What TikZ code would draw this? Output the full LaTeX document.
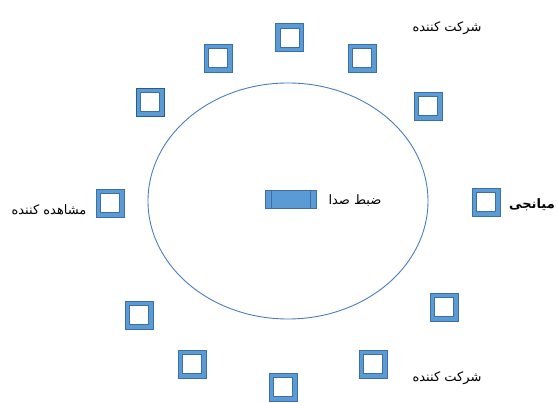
\documentclass[tikz,border=0pt]{standalone}
\usepackage{fontspec}
\TeXXeTstate=1
\newfontfamily\fa[Script=Arabic]{DejaVu Sans}
\definecolor{sqb}{HTML}{3C6FA8}
\definecolor{sqf}{HTML}{5B9BD5}
\definecolor{sqd}{HTML}{2B5A90}
\definecolor{ell}{HTML}{4A7EBB}
\begin{document}
\begin{tikzpicture}[x=1pt,y=-1pt,
  sq/.style={draw=sqb, line width=0.8pt, fill=sqf, minimum size=28pt, inner sep=0pt,
    path picture={\draw[draw=sqb, line width=0.5pt, fill=white]
      ([shift={(4.5pt,4.5pt)}]path picture bounding box.south west) rectangle
      ([shift={(-4.5pt,-4.5pt)}]path picture bounding box.north east);}},
  sqdark/.style={sq, draw=sqd},
  rec/.style={draw=sqb, line width=0.7pt, fill=sqf, minimum width=51pt, minimum height=18pt, inner sep=0pt,
    path picture={\draw[sqb, line width=0.5pt]
      ([xshift=6pt]path picture bounding box.south west) -- ([xshift=6pt]path picture bounding box.north west)
      ([xshift=-6pt]path picture bounding box.south east) -- ([xshift=-6pt]path picture bounding box.north east);}},
  lbl/.style={font=\fa\fontsize{13}{15}\selectfont, inner sep=0pt},
  ringstyle/.style={draw=ell, line width=0.9pt}
]
\useasboundingbox (0,0) rectangle (558,403);
\draw[ringstyle] (288,201) ellipse [x radius=140, y radius=118];
\node[sq] (s1) at (218,58) {};
\node[sq] (s2) at (289.5,37.5) {};
\node[sq] (s3) at (362,58) {};
\node[sqdark] (s4) at (150,102) {};
\node[sq] (s5) at (428,106) {};
\node[sq] (s6) at (110,203) {};
\node[sq] (s7) at (486,202) {};
\node[sq] (s8) at (444,307) {};
\node[sq] (s9) at (139,315) {};
\node[sq] (s10) at (192,364) {};
\node[sq] (s11) at (283,387) {};
\node[sq] (s12) at (373,364) {};
\node[rec] (rec) at (290.5,199) {};
\node[lbl] (t1) at (447,28) {\beginR شرکت کننده\endR};
\node[lbl] (t2) at (447,378) {\beginR شرکت کننده\endR};
\node[lbl] (t3) at (49,210) {\beginR مشاهده کننده\endR};
\node[lbl] (t4) at (355,201) {\beginR ضبط صدا\endR};
\node[lbl, font=\fa\bfseries\fontsize{13}{15}\selectfont] (t5) at (532,205) {\beginR میانجی\endR};
\end{tikzpicture}
\end{document}
